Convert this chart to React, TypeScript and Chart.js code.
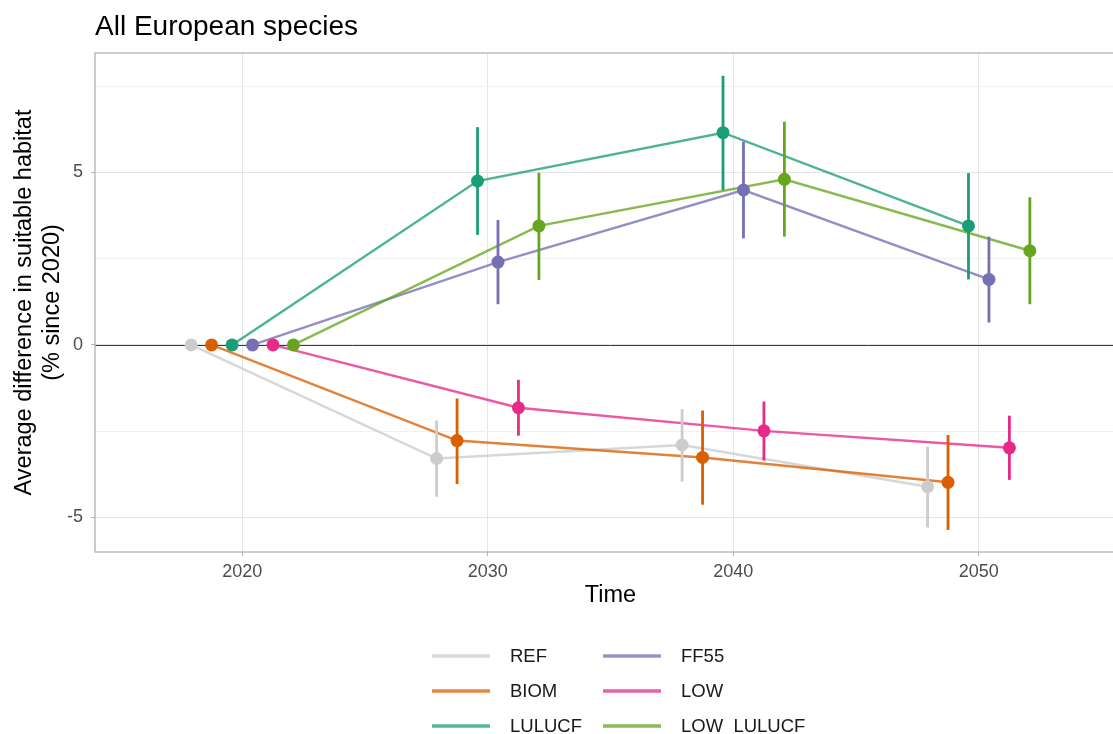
import { useEffect, useRef } from 'react';
import { Chart, registerables } from 'chart.js';

Chart.register(...registerables);

// time steps and scenarios
const years = [2020, 2030, 2040, 2050];
const scenarios = ['REF', 'BIOM', 'LULUCF', 'FF55', 'LOW', 'LOW_LULUCF'];
const colors = ['#cccccc', '#d95f02', '#1b9e77', '#7570b3', '#e7298a', '#66a61e'];

// mean difference in suitable habitat (%), with lower / upper interval
const refMean = [0, -3.29, -2.9, -4.11];
const refLower = [0, -4.4, -3.96, -5.29];
const refUpper = [0, -2.19, -1.86, -2.95];

const biomMean = [0, -2.77, -3.26, -3.98];
const biomLower = [0, -4.03, -4.63, -5.36];
const biomUpper = [0, -1.55, -1.9, -2.61];

const lulucfMean = [0, 4.75, 6.15, 3.45];
const lulucfLower = [0, 3.19, 4.49, 1.9];
const lulucfUpper = [0, 6.31, 7.8, 4.98];

const ff55Mean = [0, 2.4, 4.49, 1.9];
const ff55Lower = [0, 1.18, 3.09, 0.65];
const ff55Upper = [0, 3.62, 5.89, 3.14];

const lowMean = [0, -1.82, -2.49, -2.98];
const lowLower = [0, -2.63, -3.35, -3.91];
const lowUpper = [0, -1.01, -1.64, -2.05];

const lowLulucfMean = [0, 3.45, 4.8, 2.73];
const lowLulucfLower = [0, 1.88, 3.14, 1.18];
const lowLulucfUpper = [0, 4.99, 6.47, 4.28];

const xTicks = [2020, 2030, 2040, 2050];
const yTicks = [-5, -2.5, 0, 2.5, 5, 7.5];

const means = [refMean, biomMean, lulucfMean, ff55Mean, lowMean, lowLulucfMean];
const lowers = [refLower, biomLower, lulucfLower, ff55Lower, lowLower, lowLulucfLower];
const uppers = [refUpper, biomUpper, lulucfUpper, ff55Upper, lowUpper, lowLulucfUpper];

const DODGE = 5 / 6;
const FONT = '"Liberation Sans", Arial, Helvetica, sans-serif';

const xOf = (i: number, j: number) => years[j] + (i - 2.5) * DODGE;

const withAlpha = (hex: string, a: number) => {
  const n = parseInt(hex.slice(1), 16);
  return `rgba(${(n >> 16) & 255},${(n >> 8) & 255},${n & 255},${a})`;
};

const decor = {
  id: 'decor',
  beforeDatasetsDraw(chart: any) {
    const { ctx, chartArea: a, scales } = chart;
    const y0 = Math.round(scales.y.getPixelForValue(0)) + 0.5;
    ctx.save();
    ctx.strokeStyle = '#3a3a3a';
    ctx.lineWidth = 1;
    ctx.beginPath();
    ctx.moveTo(a.left, y0);
    ctx.lineTo(a.right, y0);
    ctx.stroke();
    ctx.restore();
  },
  beforeDatasetDraw(chart: any, args: any) {
    const ds = chart.data.datasets[args.index];
    if (ds.errIdx === undefined) return;
    const i = ds.errIdx;
    const { ctx, scales } = chart;
    ctx.save();
    ctx.strokeStyle = colors[i];
    ctx.lineWidth = 2.8;
    years.forEach((_, j) => {
      if (uppers[i][j] === lowers[i][j]) return;
      const x = scales.x.getPixelForValue(xOf(i, j));
      ctx.beginPath();
      ctx.moveTo(x, scales.y.getPixelForValue(lowers[i][j]));
      ctx.lineTo(x, scales.y.getPixelForValue(uppers[i][j]));
      ctx.stroke();
    });
    ctx.restore();
  },
  afterDraw(chart: any) {
    const { ctx, chartArea: a } = chart;
    ctx.save();
    // panel border
    ctx.strokeStyle = '#b3b3b3';
    ctx.lineWidth = 1.3;
    ctx.strokeRect(a.left, a.top, a.right - a.left, a.bottom - a.top);

    // title
    ctx.fillStyle = '#000';
    ctx.font = `28px ${FONT}`;
    ctx.textAlign = 'left';
    ctx.textBaseline = 'alphabetic';
    ctx.fillText('All European species', 95, 35);

    // legend, filled column by column
    ctx.font = `18.5px ${FONT}`;
    ctx.textBaseline = 'middle';
    const colX = [432, 603];
    const rowY = [656, 691, 726];
    scenarios.forEach((name, i) => {
      const c = Math.floor(i / 3);
      const r = i % 3;
      const x = colX[c];
      const y = rowY[r];
      ctx.strokeStyle = withAlpha(colors[i], 0.75);
      ctx.lineWidth = 3.5;
      ctx.beginPath();
      ctx.moveTo(x, y);
      ctx.lineTo(x + 58, y);
      ctx.stroke();
      ctx.fillStyle = '#1a1a1a';
      ctx.fillText(name, x + 78, y + 1);
    });
    ctx.restore();
  },
};

const App = () => {
  const chartRef = useRef<HTMLCanvasElement | null>(null);

  useEffect(() => {
    if (!chartRef.current) return;
    const ctx = chartRef.current.getContext('2d');
    if (!ctx) return;

    const lineSets = scenarios.map((name, i) => ({
      label: name,
      data: years.map((_, j) => ({ x: xOf(i, j), y: means[i][j] })),
      borderColor: withAlpha(colors[i], 0.78),
      borderWidth: 2.4,
      pointRadius: 0,
      fill: false,
      tension: 0,
      order: 20 - i,
    }));

    const pointSets = scenarios.map((name, i) => ({
      label: name + ' points',
      data: years.map((_, j) => ({ x: xOf(i, j), y: means[i][j] })),
      showLine: false,
      pointRadius: 6.5,
      pointBackgroundColor: colors[i],
      pointBorderWidth: 0,
      borderColor: colors[i],
      order: 10 - i,
      errIdx: i,
    }));

    const tickFont = { family: FONT, size: 18 };
    const titleFont = { family: FONT, size: 23.5, lineHeight: 1.2 };

    const myChart = new Chart(ctx, {
      type: 'line',
      data: { datasets: [...lineSets, ...pointSets] as any },
      options: {
        animation: false,
        responsive: true,
        maintainAspectRatio: false,
        layout: { padding: { top: 53, bottom: 120, left: 0, right: 14 } },
        plugins: {
          legend: { display: false },
          title: { display: false },
          tooltip: { enabled: false },
        },
        scales: {
          x: {
            type: 'linear',
            min: 2014,
            max: 2056,
            afterBuildTicks: (s: any) => {
              s.ticks = xTicks.map((value) => ({ value }));
            },
            afterFit: (s: any) => {
              s.height = 62;
            },
            border: { display: false },
            grid: { color: '#e6e6e6', lineWidth: 1, tickLength: 4, tickColor: '#b3b3b3' },
            ticks: { font: tickFont, color: '#4d4d4d', padding: 5, maxRotation: 0, callback: (v: any) => String(v) },
            title: { display: true, text: 'Time', font: titleFont, color: '#000', padding: { top: 0, bottom: 4 } },
          },
          y: {
            type: 'linear',
            min: -6.0,
            max: 8.46,
            afterBuildTicks: (s: any) => {
              s.ticks = yTicks.map((value) => ({ value }));
            },
            afterFit: (s: any) => {
              s.width = 95;
            },
            border: { display: false },
            grid: {
              color: (c: any) => (c.tick && c.tick.value % 5 === 0 ? '#e4e4e4' : '#f1f1f1'),
              lineWidth: 1,
              tickLength: 4,
              tickColor: (c: any) => (c.tick && c.tick.value % 5 === 0 ? '#b3b3b3' : 'rgba(0,0,0,0)'),
            },
            ticks: {
              font: tickFont,
              color: '#4d4d4d',
              padding: 8,
              callback: (v: any) => (Number(v) % 5 === 0 ? String(v) : ''),
            },
            title: {
              display: true,
              text: ['Average difference in suitable habitat', '(% since 2020)'],
              font: titleFont,
              color: '#000',
              padding: { top: 10, bottom: 0 },
            },
          },
        },
      },
      plugins: [decor],
    });

    return () => myChart.destroy();
  }, []);

  return (
    <div style={{ position: 'fixed', left: 0, top: 0, width: 1113, height: 734, overflow: 'hidden', background: '#fff' }}>
      <div style={{ position: 'relative', width: 1140, height: 734 }}>
        <canvas ref={chartRef} />
      </div>
    </div>
  );
};

export default App;
